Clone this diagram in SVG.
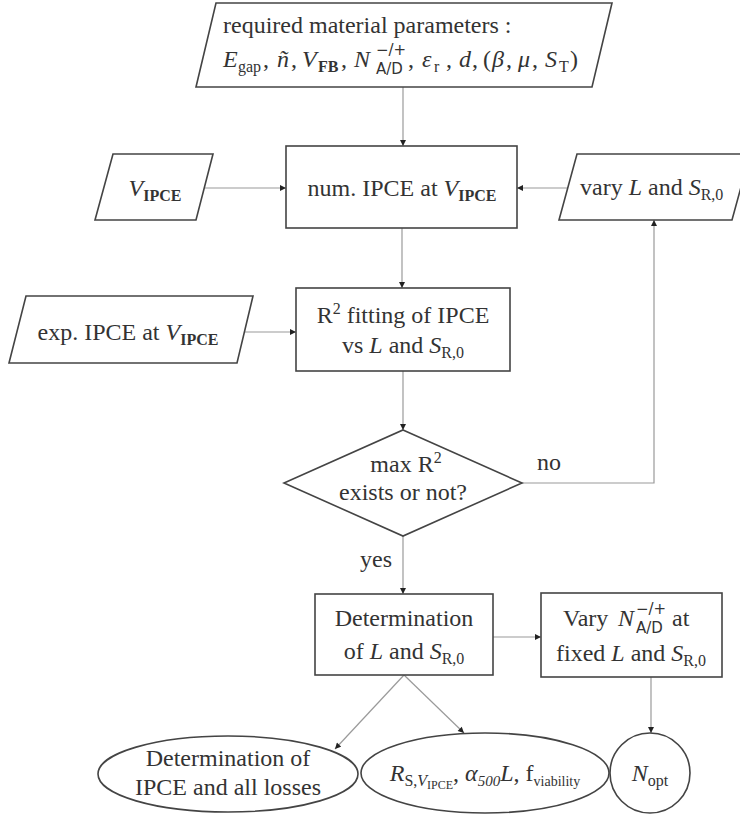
<svg xmlns="http://www.w3.org/2000/svg" width="740" height="816" viewBox="0 0 740 816">
<defs>
<marker id="ah" viewBox="0 0 10 10" refX="10" refY="5" markerWidth="7" markerHeight="6" markerUnits="userSpaceOnUse" orient="auto">
<path d="M0,0 L10,5 L0,10 z" fill="#222"/>
</marker>
<style>
.shape{fill:#fff;stroke:#444;stroke-width:1.6}
.conn{fill:none;stroke:#9a9a9a;stroke-width:1.2;marker-end:url(#ah)}
text{font-family:"Liberation Serif","Times New Roman",serif;font-size:24px;fill:#333}
.i{font-style:italic}
.s{font-size:16px}
.b{font-weight:bold}
.ss{font-family:"DejaVu Sans",sans-serif;font-size:15px}
.m{text-anchor:middle}
</style>
</defs>

<g id="connectors">
<line class="conn" x1="403" y1="87" x2="403" y2="146"/>
<line class="conn" x1="205" y1="188" x2="286" y2="188"/>
<line class="conn" x1="568" y1="188" x2="517" y2="188"/>
<line class="conn" x1="402" y1="228" x2="402" y2="288"/>
<line class="conn" x1="245" y1="332" x2="296" y2="332"/>
<line class="conn" x1="403" y1="371" x2="403" y2="430"/>
<polyline class="conn" points="522,483 654,483 654,220"/>
<line class="conn" x1="403" y1="536" x2="403" y2="594"/>
<line class="conn" x1="493" y1="637" x2="541" y2="637"/>
<line class="conn" x1="404" y1="675" x2="335" y2="749"/>
<line class="conn" x1="404" y1="675" x2="464" y2="733"/>
<line class="conn" x1="651" y1="677" x2="651" y2="733"/>
<text x="537" y="470">no</text>
<text x="360" y="567">yes</text>
</g>

<g id="params">
<polygon class="shape" points="216,3 612,3 592,87 196,87"/>
<text x="223" y="33">required material parameters :</text>
<text y="67"><tspan class="i" x="223">E</tspan><tspan class="s" x="238" y="72">gap</tspan><tspan x="263" y="67">,</tspan><tspan class="i" x="277">ñ</tspan><tspan x="291">,</tspan><tspan class="i" x="302">V</tspan><tspan class="s b" x="318" y="72">FB</tspan><tspan x="341" y="67">,</tspan><tspan class="i" x="354">N</tspan><tspan class="ss" x="376" y="55">−/+</tspan><tspan class="ss" x="376" y="74">A/D</tspan><tspan x="408" y="67">,</tspan><tspan class="i" x="422">ε</tspan><tspan class="s" x="434" y="72">r</tspan><tspan x="446" y="67">,</tspan><tspan class="i" x="459">d</tspan><tspan x="472">,</tspan><tspan x="483">(</tspan><tspan class="i" x="492">β</tspan><tspan x="506">,</tspan><tspan class="i" x="518">μ</tspan><tspan x="532">,</tspan><tspan class="i" x="545">S</tspan><tspan class="s" x="559" y="72">T</tspan><tspan x="570" y="67">)</tspan></text>
</g>

<g id="vipce">
<polygon class="shape" points="113,154 213,154 196,220 95,220"/>
<text class="m" x="155" y="196"><tspan class="i">V</tspan><tspan class="s b" dy="5">IPCE</tspan></text>
</g>

<g id="num-ipce">
<rect class="shape" x="286" y="146" width="231" height="82"/>
<text class="m" x="402" y="196">num. IPCE at <tspan class="i">V</tspan><tspan class="s b" dy="5">IPCE</tspan></text>
</g>

<g id="vary-l-s">
<polygon class="shape" points="577,154 750,154 732,220 559,220"/>
<text x="580" y="195">vary <tspan class="i">L</tspan> and <tspan class="i">S</tspan><tspan class="s" dy="5">R,0</tspan></text>
</g>

<g id="exp-ipce">
<polygon class="shape" points="26,296 253,296 237,363 9,363"/>
<text class="m" x="128" y="340">exp. IPCE at <tspan class="i">V</tspan><tspan class="s b" dy="5">IPCE</tspan></text>
</g>

<g id="r2-fitting">
<rect class="shape" x="296" y="288" width="214" height="83"/>
<text class="m" x="403" y="323">R<tspan class="s" dy="-9">2</tspan><tspan dy="9"> fitting of IPCE</tspan></text>
<text class="m" x="403" y="353">vs <tspan class="i">L</tspan> and <tspan class="i">S</tspan><tspan class="s" dy="5">R,0</tspan></text>
</g>

<g id="decision">
<polygon class="shape" points="403,430 522,483 403,536 284,483"/>
<text class="m" x="406" y="472">max R<tspan class="s" dy="-9">2</tspan></text>
<text class="m" x="403" y="500">exists or not?</text>
</g>

<g id="determination">
<rect class="shape" x="315" y="594" width="178" height="81"/>
<text class="m" x="404" y="626">Determination</text>
<text class="m" x="404" y="659">of <tspan class="i">L</tspan> and <tspan class="i">S</tspan><tspan class="s" dy="5">R,0</tspan></text>
</g>

<g id="vary-n">
<rect class="shape" x="541" y="593" width="181" height="84"/>
<text y="626"><tspan x="563">Vary</tspan><tspan class="i" x="618">N</tspan><tspan class="ss" x="636" y="614">−/+</tspan><tspan class="ss" x="636" y="633">A/D</tspan><tspan x="672" y="626">at</tspan></text>
<text class="m" x="631" y="661">fixed <tspan class="i">L</tspan> and <tspan class="i">S</tspan><tspan class="s" dy="5">R,0</tspan></text>
</g>

<g id="losses">
<ellipse class="shape" cx="228" cy="774" rx="130" ry="38"/>
<text class="m" x="228" y="766">Determination of</text>
<text class="m" x="228" y="795">IPCE and all losses</text>
</g>

<g id="rs-alpha">
<ellipse class="shape" cx="485" cy="773" rx="124" ry="40"/>
<text class="m" x="485" y="781"><tspan class="i">R</tspan><tspan class="s" dy="5">S,</tspan><tspan class="s i">V</tspan><tspan font-size="12" dy="3">IPCE</tspan><tspan dy="-8">, </tspan><tspan class="i">α</tspan><tspan class="i" font-size="15" dy="5">500</tspan><tspan class="i" dy="-5">L</tspan><tspan>, f</tspan><tspan font-size="14" dy="5">viability</tspan></text>
</g>

<g id="n-opt">
<circle class="shape" cx="650" cy="773" r="40"/>
<text class="m" x="650" y="781"><tspan class="i">N</tspan><tspan class="s" dy="5">opt</tspan></text>
</g>
</svg>
